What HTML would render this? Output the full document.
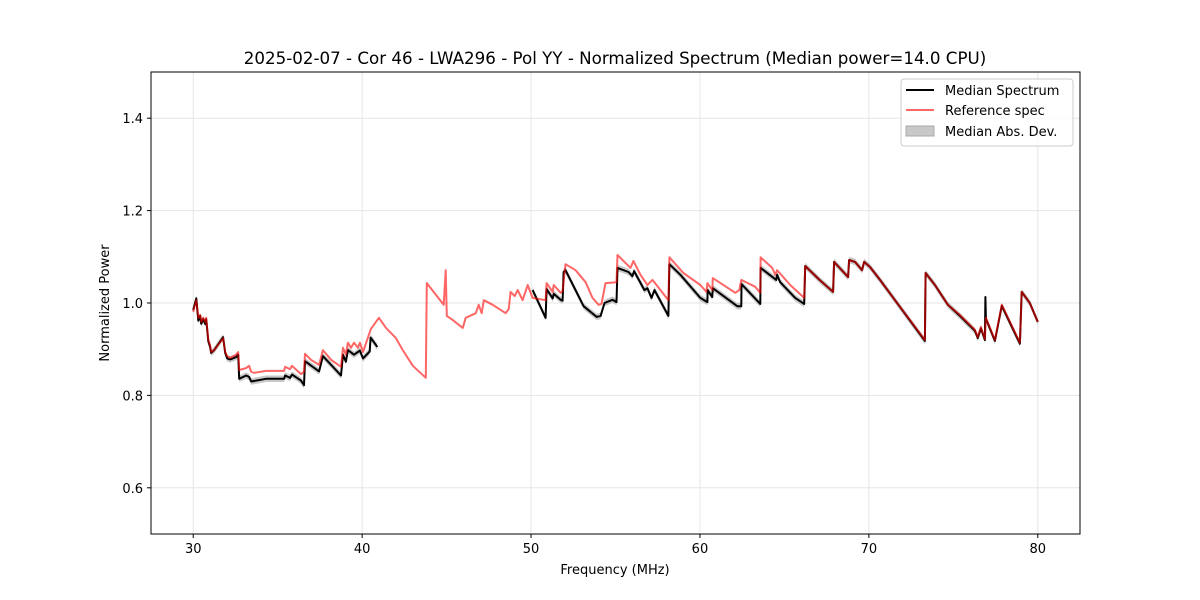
<!DOCTYPE html>
<html><head><meta charset="utf-8"><style>
html,body{margin:0;padding:0;background:#fff;}
svg{display:block;font-family:"DejaVu Sans","Liberation Sans",sans-serif;}
</style></head><body>
<svg id="chart" width="1200" height="600" xmlns="http://www.w3.org/2000/svg">
<rect width="1200" height="600" fill="#fff"/>
<text x="615" y="64" text-anchor="middle" font-size="16.7">2025-02-07 - Cor 46 - LWA296 - Pol YY - Normalized Spectrum (Median power=14.0 CPU)</text>
<g id="grid"></g><g id="band"></g><g id="lines"></g>
<rect x="151" y="72" width="929" height="462" fill="none" stroke="#000" stroke-width="1"/>
<g id="axes"></g>
<text x="615" y="574" text-anchor="middle" font-size="13">Frequency (MHz)</text>
<text x="109" y="303" text-anchor="middle" font-size="13" transform="rotate(-90 109 303)">Normalized Power</text>
<g>
<rect x="901" y="79" width="172" height="67" rx="3" fill="#fff" fill-opacity="0.8" stroke="#ccc"/>
<g><line x1="906" y1="90" x2="934" y2="90" stroke="#000" stroke-width="2"/><text x="945" y="95" font-size="13">Median Spectrum</text></g>
<g><line x1="906" y1="110" x2="934" y2="110" stroke="#ff0000" stroke-opacity="0.6" stroke-width="2"/><text x="945" y="115" font-size="13">Reference spec</text></g>
<g><rect x="906" y="126" width="28" height="10" fill="#c8c8c8" stroke="#aaa"/><text x="945" y="136" font-size="13">Median Abs. Dev.</text></g>
</g>
</svg>
<script>
const xTicks=[30,40,50,60,70,80];
const yTicks=[0.6,0.8,1.0,1.2,1.4];
const yTickLabels=["0.6","0.8","1.0","1.2","1.4"];
const refFreq=[30.00,30.18,30.30,30.41,30.47,30.59,30.71,30.77,30.89,31.00,31.06,31.24,31.77,31.89,32.01,32.19,32.54,32.66,32.72,33.13,33.31,33.43,33.61,34.31,35.38,35.44,35.73,35.85,36.38,36.56,36.62,36.97,37.45,37.68,38.16,38.75,38.87,39.04,39.16,39.34,39.52,39.75,39.87,40.05,40.52,40.99,41.41,42.00,42.41,43.00,43.77,43.83,44.83,44.95,45.01,45.37,45.96,46.13,46.73,46.90,47.08,47.20,47.73,48.50,48.68,48.79,49.03,49.21,49.50,49.80,50.09,50.86,50.92,51.28,51.34,51.75,51.87,52.04,52.64,53.23,53.64,54.00,54.17,54.41,55.06,55.12,55.89,56.06,56.48,56.89,57.19,58.13,58.19,59.02,60.02,60.38,60.44,60.73,60.76,62.09,62.33,62.45,63.27,63.57,63.59,64.28,64.46,64.57,65.34,66.17,66.23,67.08,67.88,67.94,68.77,68.83,69.18,69.60,69.72,70.07,70.66,71.55,73.32,73.36,73.91,74.68,75.39,76.28,76.45,76.63,76.87,76.93,77.46,77.87,78.94,79.05,79.53,80.00];
const refVal=[0.981,1.006,0.968,0.974,0.959,0.968,0.959,0.968,0.920,0.909,0.894,0.898,0.924,0.894,0.885,0.881,0.888,0.894,0.855,0.859,0.864,0.851,0.849,0.853,0.853,0.862,0.857,0.864,0.846,0.851,0.890,0.877,0.866,0.898,0.877,0.862,0.903,0.888,0.914,0.903,0.914,0.903,0.914,0.894,0.944,0.968,0.946,0.924,0.898,0.864,0.838,1.043,0.996,1.071,0.972,0.963,0.946,0.968,0.978,0.996,0.978,1.006,0.996,0.978,0.987,1.024,1.015,1.028,1.006,1.039,1.011,1.006,1.043,1.024,1.039,1.022,1.026,1.084,1.071,1.045,1.011,0.996,0.998,1.043,1.045,1.104,1.076,1.091,1.061,1.039,1.050,1.006,1.099,1.065,1.039,1.024,1.043,1.028,1.054,1.022,1.028,1.050,1.035,1.022,1.099,1.076,1.061,1.071,1.039,1.011,1.080,1.050,1.024,1.089,1.056,1.093,1.089,1.071,1.089,1.078,1.050,1.006,0.920,1.065,1.039,0.996,0.974,0.942,0.926,0.948,0.922,0.968,0.920,0.996,0.914,1.024,1.000,0.959];
const medFreqA=[30.00,30.18,30.30,30.41,30.47,30.59,30.71,30.77,30.89,31.00,31.06,31.24,31.77,31.89,32.01,32.19,32.54,32.66,32.72,33.13,33.31,33.43,34.31,35.38,35.44,35.73,35.85,36.38,36.56,36.62,37.45,37.68,38.75,38.87,39.04,39.16,39.52,39.87,40.05,40.45,40.50,40.90];
const medValA=[0.985,1.010,0.962,0.972,0.955,0.965,0.955,0.965,0.917,0.905,0.892,0.898,0.926,0.892,0.880,0.878,0.883,0.888,0.836,0.843,0.840,0.830,0.836,0.836,0.843,0.838,0.845,0.832,0.822,0.874,0.852,0.885,0.843,0.888,0.873,0.898,0.888,0.897,0.880,0.895,0.925,0.905];
const medFreqB=[50.09,50.86,50.92,51.28,51.34,51.75,51.87,51.93,52.04,53.11,53.88,54.12,54.35,54.82,55.06,55.12,55.77,56.00,56.10,56.71,56.89,57.13,57.31,58.13,58.19,58.84,60.02,60.44,60.45,60.73,60.76,62.21,62.45,62.46,63.57,63.59,64.52,64.57,64.75,65.64,66.17,66.23,67.08,67.88,67.94,68.77,68.83,69.18,69.60,69.72,70.07,70.66,71.55,73.32,73.36,73.91,74.68,75.39,76.28,76.45,76.63,76.87,76.90,76.93,77.46,77.87,78.94,79.05,79.53,80.00];
const medValB=[1.028,0.968,1.030,1.010,1.020,1.007,1.005,1.067,1.071,0.993,0.970,0.972,1.000,1.007,1.002,1.076,1.067,1.058,1.069,1.028,1.032,1.011,1.028,0.972,1.084,1.061,1.011,1.002,1.028,1.013,1.032,0.993,0.993,1.041,0.998,1.076,1.050,1.061,1.045,1.011,0.998,1.080,1.050,1.024,1.089,1.056,1.093,1.089,1.071,1.089,1.078,1.050,1.006,0.918,1.065,1.039,0.996,0.972,0.940,0.924,0.945,0.920,1.013,0.966,0.918,0.994,0.912,1.024,1.000,0.959];
const madHalfWidth=[0.007];
const NS="http://www.w3.org/2000/svg";
const X0=151,X1=1080,Y0=534,Y1=72;
function xs(f){return X0+(f-27.5)/(82.5-27.5)*(X1-X0);}
function ys(v){return Y0-(v-0.5)/(1.5-0.5)*(Y0-Y1);}
function mk(tag,attrs,parent){const e=document.createElementNS(NS,tag);for(const k in attrs)e.setAttribute(k,attrs[k]);parent.appendChild(e);return e;}
const grid=document.getElementById('grid'),axes=document.getElementById('axes');
xTicks.forEach(t=>{const x=xs(t);
 const g=mk('line',{x1:x,x2:x,y1:Y1,y2:Y0,stroke:'#e6e6e6','stroke-width':1},grid);
 
 
 mk('line',{x1:x,x2:x,y1:Y0,y2:Y0+4,stroke:'#000'},axes);
 const tx=mk('text',{x:x,y:Y0+19,'text-anchor':'middle','font-size':13},axes);tx.textContent=t;
 
 });
yTicks.forEach((t,i)=>{const y=ys(t);
 const g=mk('line',{x1:X0,x2:X1,y1:y,y2:y,stroke:'#e6e6e6','stroke-width':1},grid);
 
 
 mk('line',{x1:X0-4,x2:X0,y1:y,y2:y,stroke:'#000'},axes);
 const tx=mk('text',{x:X0-8,y:y+5,'text-anchor':'end','font-size':13},axes);tx.textContent=yTickLabels[i];
 
 });
function pts(F,V){return F.map((f,i)=>xs(f).toFixed(1)+','+ys(V[i]).toFixed(1)).join(' ');}
const band=document.getElementById('band'),lines=document.getElementById('lines');
[[medFreqA,medValA],[medFreqB,medValB]].forEach(([F,V])=>{
 const up=F.map((f,i)=>xs(f).toFixed(1)+','+ys(V[i]+madHalfWidth[0]).toFixed(1));
 const dn=F.map((f,i)=>xs(f).toFixed(1)+','+ys(V[i]-madHalfWidth[0]).toFixed(1)).reverse();
 const p=mk('polygon',{points:up.concat(dn).join(' '),fill:'#b0b0b0','fill-opacity':0.7},band);
 
 
 const l=mk('polyline',{points:pts(F,V),fill:'none',stroke:'#000','stroke-width':2,'stroke-linejoin':'round'},lines);
 
 
});
const r=mk('polyline',{points:pts(refFreq,refVal),fill:'none',stroke:'#ff0000','stroke-width':2,'stroke-opacity':0.6,'stroke-linejoin':'round'},lines);


</script>
</body></html>
